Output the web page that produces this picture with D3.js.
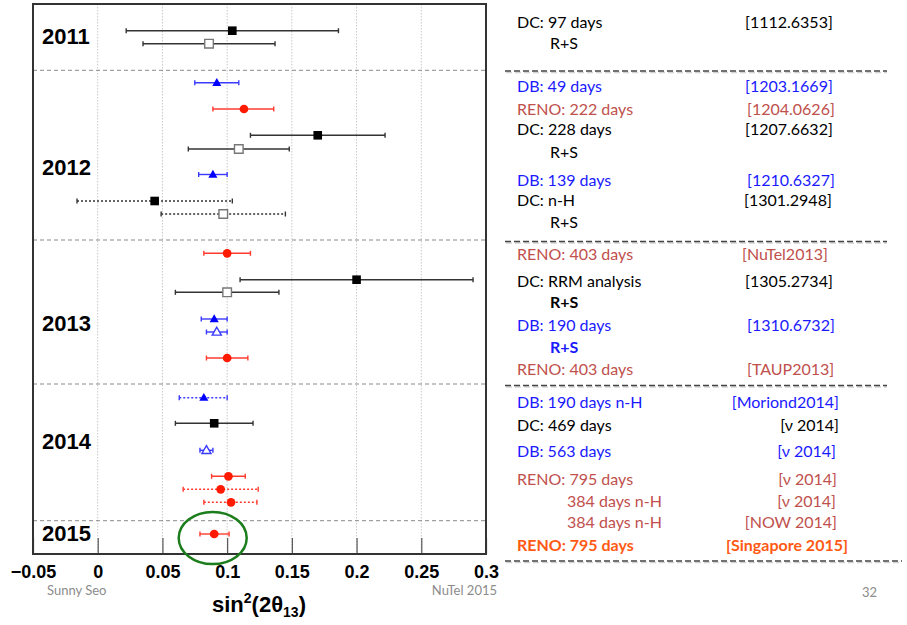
<!DOCTYPE html>
<html>
<head>
<meta charset="utf-8">
<script src="https://cdn.jsdelivr.net/npm/d3@7"></script>
<style>
  body { margin: 0; background: #fff; }
  svg { display: block; }
</style>
</head>
<body>
<div id="chart"></div>
<script>
// ---- Data ----
// measurement per row (top to bottom)
let experiments = ['DC', 'DC', 'DB', 'RENO', 'DC', 'DC', 'DB', 'DC', 'DC',
  'RENO', 'DC', 'DC', 'DB', 'DB', 'RENO',
  'DB', 'DC', 'DB', 'RENO', 'RENO', 'RENO',
  'RENO'];
// 'rate' = filled marker, 'shape' = open marker (rate + shape)
let fits = ['rate', 'shape', 'rate', 'rate', 'rate', 'shape', 'rate', 'rate', 'shape',
  'rate', 'rate', 'shape', 'rate', 'shape', 'rate',
  'rate', 'rate', 'shape', 'rate', 'rate', 'rate',
  'rate'];
// neutron capture: Gd or H (dotted)
let captures = ['Gd', 'Gd', 'Gd', 'Gd', 'Gd', 'Gd', 'Gd', 'H', 'H',
  'Gd', 'Gd', 'Gd', 'Gd', 'Gd', 'Gd',
  'H', 'Gd', 'Gd', 'Gd', 'H', 'H',
  'Gd'];
// sin^2(2 theta13) central value and interval
let centralValues = [0.104, 0.086, 0.092, 0.113, 0.170, 0.109, 0.089, 0.044, 0.097,
  0.100, 0.200, 0.100, 0.090, 0.092, 0.100,
  0.082, 0.090, 0.084, 0.101, 0.095, 0.103,
  0.090];
let lowValues = [0.022, 0.035, 0.075, 0.089, 0.118, 0.070, 0.078, -0.016, 0.049,
  0.082, 0.110, 0.060, 0.080, 0.084, 0.084,
  0.063, 0.060, 0.079, 0.088, 0.066, 0.082,
  0.079];
let highValues = [0.186, 0.137, 0.109, 0.136, 0.222, 0.148, 0.100, 0.104, 0.145,
  0.118, 0.290, 0.140, 0.100, 0.100, 0.116,
  0.100, 0.120, 0.089, 0.114, 0.124, 0.123,
  0.1015];
// vertical slot of each row (plot units, 0 = top)
let rowSlots = [2.67, 3.97, 7.88, 10.5, 13.13, 14.5, 17.05, 19.7, 21.0,
  24.93, 27.57, 28.83, 31.5, 32.8, 35.4,
  39.37, 41.93, 44.63, 47.23, 48.53, 49.83,
  53.0];

let years = ['2011', '2012', '2013', '2014', '2015'];
let yearSlots = [4.0, 17.1, 32.7, 44.5, 53.7];
let yearBreaks = [6.63, 23.6, 38.0, 51.67];

let xTicks = [-0.05, 0, 0.05, 0.1, 0.15, 0.2, 0.25, 0.3];

// right hand reference list
let refLabels = ['DC: 97 days', 'R+S',
  'DB: 49 days', 'RENO: 222 days', 'DC: 228 days', 'R+S', 'DB: 139 days', 'DC: n-H', 'R+S',
  'RENO: 403 days', 'DC: RRM analysis', 'R+S', 'DB: 190 days', 'R+S', 'RENO: 403 days',
  'DB: 190 days n-H', 'DC: 469 days', 'DB: 563 days', 'RENO: 795 days', '384 days n-H', '384 days n-H',
  'RENO: 795 days'];
let refSources = ['[1112.6353]', '',
  '[1203.1669]', '[1204.0626]', '[1207.6632]', '', '[1210.6327]', '[1301.2948]', '',
  '[NuTel2013]', '[1305.2734]', '', '[1310.6732]', '', '[TAUP2013]',
  '[Moriond2014]', '[\u03bd 2014]', '[\u03bd 2014]', '[\u03bd 2014]', '[\u03bd 2014]', '[NOW 2014]',
  '[Singapore 2015]'];
let refGroups = ['DC', 'DC', 'DB', 'RENO', 'DC', 'DC', 'DB', 'DC', 'DC',
  'RENO', 'DC', 'DC', 'DB', 'DB', 'RENO',
  'DB', 'DC', 'DB', 'RENO', 'RENO', 'RENO', 'NEW'];

// ---- Layout ----
let svgWidth = 907;
let svgHeight = 625;
let plot = { left: 33, right: 486, top: 4, bottom: 554 };

let svg = d3.select('#chart').append('svg')
  .attr('width', svgWidth)
  .attr('height', svgHeight);

let xScale = d3.scaleLinear()
  .domain([-0.05, 0.3])
  .range([plot.left, plot.right]);

let yScale = d3.scaleLinear()
  .domain([0, 55])
  .range([plot.top, plot.bottom]);

let markerColor = { DC: '#000', DB: '#0000ff', RENO: '#ff1a00' };
let lineColor = { DC: '#333', DB: '#3a3aff', RENO: '#ff3b2f' };
let openStroke = { DC: '#777', DB: '#3a3aff', RENO: '#ff1a00' };
let markerShape = { DC: d3.symbolSquare, DB: d3.symbolTriangle, RENO: d3.symbolCircle };
let markerSize = { DC: 74, DB: 36, RENO: 60 };

let rows = experiments.map((e, i) => ({
  exp: e, fit: fits[i], capture: captures[i],
  value: centralValues[i], lo: lowValues[i], hi: highValues[i], slot: rowSlots[i]
}));

// vertical grid lines
svg.append('g')
  .selectAll('line')
  .data(xTicks.slice(1, -1))
  .enter()
  .append('line')
  .attr('x1', d => xScale(d)).attr('x2', d => xScale(d))
  .attr('y1', plot.top).attr('y2', plot.bottom)
  .attr('stroke', '#c8c8c8')
  .attr('stroke-width', 1)
  .attr('stroke-dasharray', '1.5,1.5');

// year separators
svg.append('g')
  .selectAll('line')
  .data(yearBreaks)
  .enter()
  .append('line')
  .attr('x1', plot.left).attr('x2', plot.right)
  .attr('y1', d => yScale(d)).attr('y2', d => yScale(d))
  .attr('stroke', '#8a8a8a')
  .attr('stroke-width', 1)
  .attr('stroke-dasharray', '4,3');

// bottom axis (ticks point up into the frame)
let bottomAxis = d3.axisBottom(xScale)
  .tickValues(xTicks)
  .tickSize(-16)
  .tickPadding(11)
  .tickFormat(d => d === 0 ? '0' : d3.format('.2~f')(d).replace('-', '\u2212'));

let xAxis = svg.append('g')
  .attr('transform', `translate(0, ${plot.bottom})`)
  .call(bottomAxis);
xAxis.select('.domain').remove();
xAxis.selectAll('.tick line').attr('stroke', '#555').attr('stroke-width', 1.2);
xAxis.selectAll('.tick text')
  .attr('font-family', 'Liberation Sans, Arial, sans-serif')
  .attr('font-size', 18)
  .attr('font-weight', 'bold')
  .attr('fill', '#000');

// frame
svg.append('rect')
  .attr('x', plot.left).attr('y', plot.top)
  .attr('width', plot.right - plot.left)
  .attr('height', plot.bottom - plot.top)
  .attr('fill', 'none')
  .attr('stroke', '#333')
  .attr('stroke-width', 2);

// year labels
svg.append('g')
  .selectAll('text')
  .data(years)
  .enter()
  .append('text')
  .attr('x', 42)
  .attr('y', (d, i) => yScale(yearSlots[i]))
  .attr('font-family', 'Liberation Sans, Arial, sans-serif')
  .attr('font-size', 22)
  .attr('font-weight', 'bold')
  .text(d => d);

// error bars
let bars = svg.append('g')
  .selectAll('g')
  .data(rows)
  .enter()
  .append('g')
  .attr('stroke', d => lineColor[d.exp])
  .attr('stroke-width', 1.4);

bars.append('line')
  .attr('x1', d => xScale(d.lo)).attr('x2', d => xScale(d.hi))
  .attr('y1', d => yScale(d.slot)).attr('y2', d => yScale(d.slot))
  .attr('stroke-dasharray', d => d.capture === 'H' ? '2,2' : null);

['lo', 'hi'].forEach(k => {
  bars.append('line')
    .attr('x1', d => xScale(d[k])).attr('x2', d => xScale(d[k]))
    .attr('y1', d => yScale(d.slot) - 2.5).attr('y2', d => yScale(d.slot) + 2.5);
});

// markers
svg.append('g')
  .selectAll('path')
  .data(rows)
  .enter()
  .append('path')
  .attr('transform', d => `translate(${xScale(d.value)}, ${yScale(d.slot) + (d.exp === 'DB' ? 0.5 : 0)})`)
  .attr('d', d => d3.symbol().type(markerShape[d.exp]).size(markerSize[d.exp])())
  .attr('fill', d => d.fit === 'shape' ? '#fff' : markerColor[d.exp])
  .attr('stroke', d => d.fit === 'shape' ? openStroke[d.exp] : 'none')
  .attr('stroke-width', 1.4);

// highlight of the newest result
let latest = rows[rows.length - 1];
svg.append('ellipse')
  .attr('cx', xScale(latest.value) - 1.5)
  .attr('cy', yScale(latest.slot) + 4)
  .attr('rx', 34)
  .attr('ry', 26)
  .attr('fill', 'none')
  .attr('stroke', '#1b7d1b')
  .attr('stroke-width', 2.5);

// axis title
let title = svg.append('text')
  .attr('x', 259)
  .attr('y', 612)
  .attr('text-anchor', 'middle')
  .attr('font-family', 'Liberation Sans, Arial, sans-serif')
  .attr('font-size', 22)
  .attr('font-weight', 'bold');
title.append('tspan').text('sin');
title.append('tspan').attr('font-size', 14).attr('dy', -9).text('2');
title.append('tspan').attr('dy', 9).text('(2\u03b8');
title.append('tspan').attr('font-size', 14).attr('dy', 5).text('13');
title.append('tspan').attr('dy', -5).text(')');

// footer
let footer = svg.append('g')
  .attr('font-family', 'Lato, Open Sans, sans-serif')
  .attr('font-size', 13)
  .attr('fill', '#8c8c8c');
footer.append('text').attr('x', 47).attr('y', 595).text('Sunny Seo');
footer.append('text').attr('x', 497).attr('y', 595).attr('text-anchor', 'end').text('NuTel 2015');
footer.append('text').attr('x', 877).attr('y', 597).attr('text-anchor', 'end').text('32');

// ---- Reference list ----
let textColor = { DC: '#000', DB: '#1a1aff', RENO: '#c0504d', NEW: '#ff5a14' };
let refBaselines = [28, 49, 92, 115, 135, 157.5, 185.5, 205.5, 228,
  260, 286.5, 307.5, 330.5, 352.5, 375,
  408, 430.5, 456.5, 485, 506.5, 528, 550.5];
// x position of the label and the source; source anchor
let refIndent = [517, 550, 517, 517, 517, 550, 517, 517, 550,
  517, 517, 550, 517, 550, 517,
  517, 517, 517, 517, 567, 567, 517];
let refSourceX = [745, 0, 745, 747, 745, 0, 747, 744, 0,
  742, 745, 0, 747, 0, 747,
  839, 839, 836, 837, 836, 837, 848];
let refSourceAnchor = refSourceX.map((x, i) => i >= 15 ? 'end' : 'start');
let refBold = [false, false, false, false, false, false, false, false, false,
  false, false, true, false, true, false,
  false, false, false, false, false, false, true];

let refGroup = svg.append('g')
  .attr('font-family', 'Lato, Open Sans, sans-serif')
  .attr('font-size', 16);

refLabels.forEach((label, i) => {
  refGroup.append('text')
    .attr('x', refIndent[i])
    .attr('y', refBaselines[i])
    .attr('fill', textColor[refGroups[i]])
    .attr('font-weight', refBold[i] ? 'bold' : 'normal')
    .text(label);
  if (refSources[i]) {
    refGroup.append('text')
      .attr('x', refSourceX[i])
      .attr('y', refBaselines[i])
      .attr('text-anchor', refSourceAnchor[i])
      .attr('fill', textColor[refGroups[i]])
      .attr('font-weight', refBold[i] ? 'bold' : 'normal')
      .text(refSources[i]);
  }
});

// dashed separators of the list
let listBreaks = [71, 241.5, 385.5, 561];
let listBreakEnds = [887, 887, 887, 902];
listBreaks.forEach((y, i) => {
  svg.append('line')
    .attr('x1', 506).attr('x2', listBreakEnds[i])
    .attr('y1', y + 1.5).attr('y2', y + 1.5)
    .attr('stroke', '#d4d4d4').attr('stroke-width', 1.5)
    .attr('stroke-dasharray', '6,3');
  svg.append('line')
    .attr('x1', 505).attr('x2', listBreakEnds[i])
    .attr('y1', y).attr('y2', y)
    .attr('stroke', '#444').attr('stroke-width', 1.5)
    .attr('stroke-dasharray', '6,3');
});
</script>
</body>
</html>
